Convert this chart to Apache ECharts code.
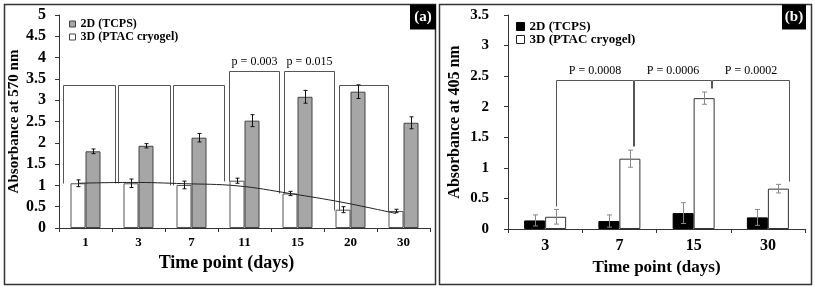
<!DOCTYPE html>
<html>
<head>
<meta charset="utf-8">
<script src="https://cdn.jsdelivr.net/npm/echarts@6/dist/echarts.min.js"></script>
<style>
html, body { margin: 0; padding: 0; background: #fff; }
#chart { width: 815px; height: 290px; }
</style>
</head>
<body>
<div id="chart"></div>
<script>
// panel (a) - absorbance at 570 nm
const daysA = ["1", "3", "7", "11", "15", "20", "30"];
const tcpsA = [1.8, 1.93, 2.12, 2.52, 3.08, 3.2, 2.47];
const tcpsErrA = [0.055, 0.05, 0.1, 0.14, 0.15, 0.16, 0.14];
const cryoA = [1.05, 1.05, 1.01, 1.11, 0.81, 0.43, 0.4];
const cryoErrA = [0.08, 0.1, 0.09, 0.06, 0.05, 0.07, 0.04];
const trendA = [1.05, 1.07, 1.04, 0.99, 0.81, 0.6, 0.34];
const bracketTopA = [3.35, 3.35, 3.35, 3.68, 3.68, 3.35];
const pLabelsA = ["", "", "", "p = 0.003", "p = 0.015", ""];

// panel (b) - absorbance at 405 nm
const daysB = ["3", "7", "15", "30"];
const tcpsB = [0.14, 0.13, 0.26, 0.19];
const tcpsErrB = [0.09, 0.1, 0.17, 0.13];
const cryoB = [0.2, 1.15, 2.14, 0.66];
const cryoErrB = [0.12, 0.14, 0.1, 0.07];
const bracketTopB = [2.43, 2.43, 2.43];
const pLabelsB = ["P = 0.0008", "P = 0.0006", "P = 0.0002"];

const SERIF = '"Times New Roman", "Liberation Serif", serif';
const BAR_A = 15, BAR_B = 21;
const bandA = 371 / daysA.length;

function errorBars(barW, side, color, cap) {
    return function (params, api) {
        const i = api.value(0);
        const lo = api.coord([i, api.value(1)]);
        const hi = api.coord([i, api.value(2)]);
        const x = Math.round(lo[0] + side * barW / 2) + 0.5;
        const st = { stroke: color, lineWidth: 1 };
        return {
            type: "group",
            children: [
                { type: "line", shape: { x1: x, y1: lo[1], x2: x, y2: hi[1] }, style: st },
                { type: "line", shape: { x1: x - cap, y1: lo[1], x2: x + cap, y2: lo[1] }, style: st },
                { type: "line", shape: { x1: x - cap, y1: hi[1], x2: x + cap, y2: hi[1] }, style: st },
            ],
        };
    };
}

function brackets(tops, leftBot, rightBot, labels, l0, lStep, r0, rStep) {
    return function (params, api) {
        const j = params.dataIndex;
        const l = l0 + j * lStep, r = r0 + j * rStep;
        const pts = [
            api.coord([l, leftBot[j]]),
            api.coord([l, tops[j]]),
            api.coord([r, tops[j]]),
            api.coord([r, rightBot[j]]),
        ].map((p) => [Math.round(p[0]) + 0.5, Math.round(p[1]) + 0.5]);
        const children = [{
            type: "polyline",
            shape: { points: pts },
            style: { stroke: "#555", fill: null, lineWidth: 1 },
        }];
        if (labels[j]) {
            children.push({
                type: "text",
                x: (pts[1][0] + pts[2][0]) / 2,
                y: pts[1][1] - 4,
                style: { text: labels[j], align: "center", verticalAlign: "bottom", font: "12px " + SERIF, fill: "#000" },
            });
        }
        return { type: "group", children: children };
    };
}

const axisLine = { show: true, lineStyle: { color: "#333", width: 1 } };
const axisTick = { show: true, length: 4, lineStyle: { color: "#333" } };

const option = {
    animation: false,
    backgroundColor: "#fff",
    textStyle: { fontFamily: SERIF },
    grid: [
        { left: 59, top: 15, width: 371, height: 213 },
        { left: 508, top: 15, width: 297, height: 214 },
    ],
    legend: [
        {
            left: 64, top: 13, orient: "vertical", icon: "rect",
            itemWidth: 6, itemHeight: 6, itemGap: 1, selectedMode: false,
            textStyle: { fontFamily: SERIF, fontWeight: "bold", fontSize: 12, color: "#000" },
            data: [
                { name: "2D (TCPS)", itemStyle: { color: "#a6a6a6", borderColor: "#444", borderWidth: 1 } },
                { name: "3D (PTAC cryogel)", itemStyle: { color: "#fff", borderColor: "#444", borderWidth: 1 } },
            ],
        },
        {
            left: 511, top: 15, orient: "vertical", icon: "rect",
            itemWidth: 8, itemHeight: 8, itemGap: 0, selectedMode: false,
            textStyle: { fontFamily: SERIF, fontWeight: "bold", fontSize: 13, color: "#000" },
            data: [
                { name: "2D (TCPS)", itemStyle: { color: "#000", borderColor: "#000", borderWidth: 1 } },
                { name: "3D (PTAC cryogel)", itemStyle: { color: "#fff", borderColor: "#222", borderWidth: 1 } },
            ],
        },
    ],
    xAxis: [
        {
            gridIndex: 0, type: "category", data: daysA,
            axisLine: axisLine, axisTick: axisTick,
            axisLabel: { margin: 8, color: "#000", fontFamily: SERIF, fontWeight: "bold", fontSize: 13 },
            name: "Time point (days)", nameLocation: "middle", nameGap: 26,
            nameTextStyle: { color: "#000", fontFamily: SERIF, fontWeight: "bold", fontSize: 18, padding: [0, 36, 0, 0] },
        },
        { gridIndex: 0, type: "value", min: 0, max: 7, show: false },
        {
            gridIndex: 1, type: "category", data: daysB,
            axisLine: axisLine, axisTick: axisTick,
            axisLabel: { margin: 9, color: "#000", fontFamily: SERIF, fontWeight: "bold", fontSize: 16 },
            name: "Time point (days)", nameLocation: "middle", nameGap: 29,
            nameTextStyle: { color: "#000", fontFamily: SERIF, fontWeight: "bold", fontSize: 17 },
        },
        { gridIndex: 1, type: "value", min: 0, max: 4, show: false },
    ],
    yAxis: [
        {
            gridIndex: 0, type: "value", min: 0, max: 5, interval: 0.5,
            splitLine: { show: false }, axisLine: axisLine, axisTick: axisTick,
            axisLabel: { margin: 13, color: "#000", fontFamily: SERIF, fontWeight: "bold", fontSize: 16 },
            name: "Absorbance at 570 nm", nameLocation: "middle", nameGap: 37,
            nameTextStyle: { color: "#000", fontFamily: SERIF, fontWeight: "bold", fontSize: 15 },
        },
        {
            gridIndex: 1, type: "value", min: 0, max: 3.5, interval: 0.5,
            splitLine: { show: false }, axisLine: axisLine, axisTick: axisTick,
            axisLabel: { margin: 19, color: "#000", fontFamily: SERIF, fontWeight: "bold", fontSize: 15 },
            name: "Absorbance at 405 nm", nameLocation: "middle", nameGap: 45,
            nameTextStyle: { color: "#000", fontFamily: SERIF, fontWeight: "bold", fontSize: 16 },
        },
    ],
    series: [
        // panel (a)
        {
            name: "3D (PTAC cryogel)", type: "bar", xAxisIndex: 0, yAxisIndex: 0,
            barWidth: BAR_A, barGap: "0%", data: cryoA,
            itemStyle: { color: "#fff", borderColor: "#555", borderWidth: 1 },
        },
        {
            name: "2D (TCPS)", type: "bar", xAxisIndex: 0, yAxisIndex: 0,
            barWidth: BAR_A, barGap: "0%", data: tcpsA,
            itemStyle: { color: "#a6a6a6", borderColor: "#444", borderWidth: 1 },
        },
        {
            type: "custom", xAxisIndex: 0, yAxisIndex: 0, z: 5,
            renderItem: errorBars(BAR_A, -1, "#111", 2),
            encode: { x: 0, y: [1, 2] },
            data: cryoA.map((v, i) => [i, v - cryoErrA[i], v + cryoErrA[i]]),
        },
        {
            type: "custom", xAxisIndex: 0, yAxisIndex: 0, z: 5,
            renderItem: errorBars(BAR_A, 1, "#111", 2),
            encode: { x: 0, y: [1, 2] },
            data: tcpsA.map((v, i) => [i, v - tcpsErrA[i], v + tcpsErrA[i]]),
        },
        {
            type: "line", xAxisIndex: 1, yAxisIndex: 0, z: 6,
            smooth: 0.4, showSymbol: false, symbol: "none",
            lineStyle: { color: "#222", width: 1 },
            data: trendA.map((v, i) => [i + 0.5 - BAR_A / 2 / bandA, v]),
        },
        {
            type: "custom", xAxisIndex: 1, yAxisIndex: 0, z: 4, clip: false,
            renderItem: brackets(bracketTopA, cryoA.slice(0, 6), cryoA.slice(1),
                pLabelsA, 0.08, 1.04, 1.06, 1.03),
            encode: { x: 0, y: 1 },
            data: bracketTopA.map((t, j) => [j + 0.5, t]),
        },
        // panel (b)
        {
            name: "2D (TCPS)", type: "bar", xAxisIndex: 2, yAxisIndex: 1,
            barWidth: BAR_B, barGap: "0%", data: tcpsB,
            itemStyle: { color: "#000", borderColor: "#000", borderWidth: 1 },
        },
        {
            name: "3D (PTAC cryogel)", type: "bar", xAxisIndex: 2, yAxisIndex: 1,
            barWidth: BAR_B, barGap: "0%", data: cryoB,
            itemStyle: { color: "#fff", borderColor: "#333", borderWidth: 1 },
        },
        {
            type: "custom", xAxisIndex: 2, yAxisIndex: 1, z: 5,
            renderItem: errorBars(BAR_B, -1, "#888", 2.5),
            encode: { x: 0, y: [1, 2] },
            data: tcpsB.map((v, i) => [i, v - tcpsErrB[i], v + tcpsErrB[i]]),
        },
        {
            type: "custom", xAxisIndex: 2, yAxisIndex: 1, z: 5,
            renderItem: errorBars(BAR_B, 1, "#888", 2.5),
            encode: { x: 0, y: [1, 2] },
            data: cryoB.map((v, i) => [i, v - cryoErrB[i], v + cryoErrB[i]]),
        },
        {
            type: "custom", xAxisIndex: 3, yAxisIndex: 1, z: 4, clip: false,
            renderItem: brackets(bracketTopB,
                cryoB.slice(0, 3).map((v, i) => v + cryoErrB[i] + 0.06),
                cryoB.slice(1).map((v, i) => v + cryoErrB[i + 1] + 0.06),
                pLabelsB, 0.65, 1.05, 1.68, 1.05),
            encode: { x: 0, y: 1 },
            data: bracketTopB.map((t, j) => [j + 1, t]),
        },
    ],
    graphic: [
        { type: "rect", z: 100, shape: { x: 4.5, y: 4.5, width: 431, height: 280 }, style: { fill: null, stroke: "#333", lineWidth: 1.5 } },
        { type: "rect", z: 100, shape: { x: 439.5, y: 4.5, width: 372, height: 280 }, style: { fill: null, stroke: "#333", lineWidth: 1.5 } },
        { type: "rect", z: 100, shape: { x: 410, y: 4.5, width: 26, height: 25 }, style: { fill: "#000" } },
        { type: "text", z: 101, x: 423, y: 17, style: { text: "(a)", fill: "#fff", font: "bold 15px " + SERIF, align: "center", verticalAlign: "middle" } },
        { type: "rect", z: 100, shape: { x: 782, y: 4.5, width: 24, height: 25 }, style: { fill: "#000" } },
        { type: "text", z: 101, x: 794, y: 17, style: { text: "(b)", fill: "#fff", font: "bold 15px " + SERIF, align: "center", verticalAlign: "middle" } },
    ],
};

const myChart = echarts.init(document.getElementById("chart"));
myChart.setOption(option);
window.onresize = () => {
    myChart.resize();
};
</script>
</body>
</html>
